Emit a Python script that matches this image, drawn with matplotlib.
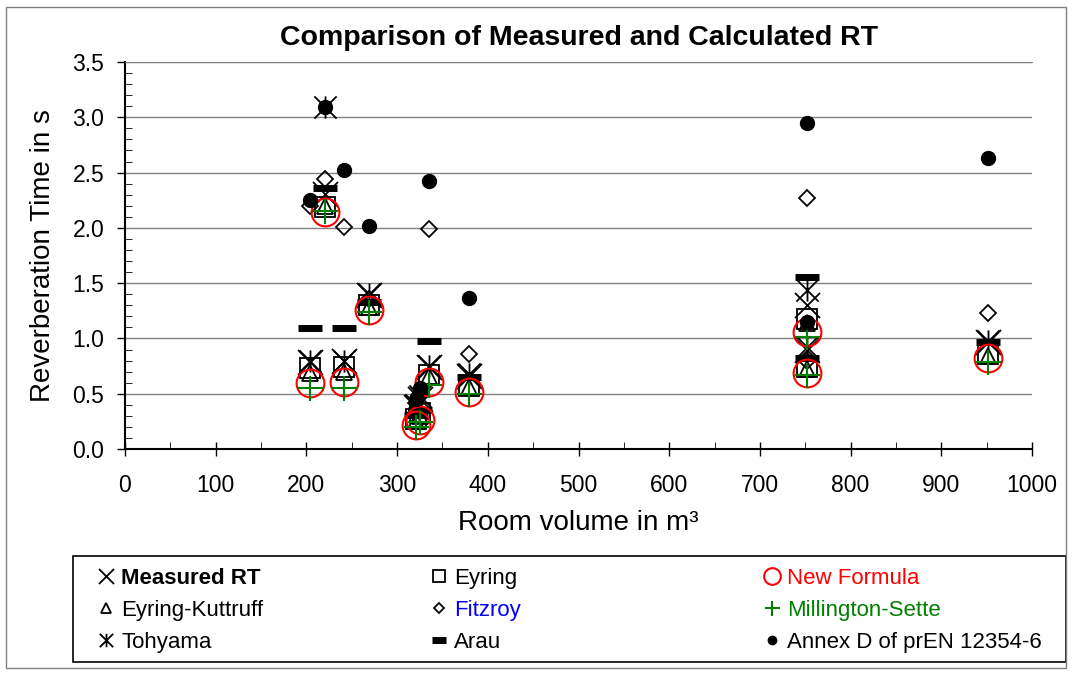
import matplotlib
matplotlib.use("Agg")
from matplotlib import pyplot as plt
from matplotlib.path import Path
from matplotlib.patches import Rectangle
from matplotlib.ticker import MultipleLocator

plt.rcParams['font.family'] = ['Liberation Sans', 'DejaVu Sans']

# room volumes in m3
volume = [204, 220, 241, 269, 321, 325, 335, 379, 752, 752, 952]

measured = [0.79, 2.31, 0.80, 1.39, 0.38, 0.45, 0.74, 0.66, 1.30, 0.90, 0.97]
eyring = [0.73, 2.19, 0.74, 1.30, 0.27, 0.33, 0.67, 0.57, 1.18, 0.74, 0.86]
eyring_kuttruff = [0.69, 2.20, 0.70, 1.28, 0.25, 0.30, 0.66, 0.56, 1.14, 0.72, 0.84]
new_formula = [0.60, 2.14, 0.61, 1.26, 0.22, 0.26, 0.61, 0.52, 1.06, 0.69, 0.82]
millington = [0.55, 2.15, 0.55, 1.24, 0.20, 0.24, 0.58, 0.50, 1.01, 0.67, 0.79]
fitzroy = [2.20, 2.44, 2.01, 1.36, 0.42, 0.50, 1.99, 0.86, 2.27, 0.80, 1.23]
tohyama = [0.80, 3.09, 0.80, 1.40, 0.40, 0.48, 0.75, 0.68, 1.44, 0.92, 0.98]
arau = [1.09, 2.36, 1.09, 1.33, 0.31, 0.35, 0.98, 0.65, 1.56, 0.82, 0.97]
annex_d = [2.25, 3.09, 2.52, 2.02, 0.45, 0.55, 2.42, 1.37, 2.95, 1.15, 2.63]

# asterisk marker: an x with a vertical stroke
star = Path([(-1, -1), (1, 1), (-1, 1), (1, -1), (0, -1), (0, 1)],
            [Path.MOVETO, Path.LINETO] * 3)

fig = plt.figure(figsize=(10.72, 6.75), dpi=100)
ax = fig.add_axes([0.1166, 0.3348, 0.8461, 0.5733])

kw = dict(linestyle='none')
h_meas, = ax.plot(volume, measured, marker='x', ms=18, mew=1.3, color='black', **kw)
h_ek, = ax.plot(volume, eyring_kuttruff, marker='^', ms=11, mew=1.3, mfc='none', mec='black', **kw)
h_toh, = ax.plot(volume, tohyama, marker=star, ms=16, mew=1.3, color='black', **kw)
h_ey, = ax.plot(volume, eyring, marker='s', ms=14, mew=1.3, mfc='none', mec='black', **kw)
h_fitz, = ax.plot(volume, fitzroy, marker='D', ms=8, mew=1.3, mfc='none', mec='black', **kw)
h_arau, = ax.plot(volume, arau, marker='_', ms=17, mew=5, color='black', **kw)
h_new, = ax.plot(volume, new_formula, marker='o', ms=20, mew=1.5, mfc='none', mec='red', **kw)
h_ms, = ax.plot(volume, millington, marker='+', ms=18, mew=1.5, color='green', **kw)
h_ann, = ax.plot(volume, annex_d, marker='o', ms=10, color='black', **kw)

ax.set_xlim(0, 1000)
ax.set_ylim(0, 3.5)
ax.xaxis.set_major_locator(MultipleLocator(100))
ax.xaxis.set_minor_locator(MultipleLocator(50))
ax.yaxis.set_major_locator(MultipleLocator(0.5))
ax.yaxis.set_minor_locator(MultipleLocator(0.1))
ax.yaxis.set_major_formatter(matplotlib.ticker.FormatStrFormatter('%.1f'))
ax.tick_params(axis='x', which='major', direction='inout', length=10, labelsize=16.5, width=1, pad=13)
ax.tick_params(axis='x', which='minor', direction='in', length=5)
ax.tick_params(axis='y', which='major', direction='out', length=6, labelsize=16.5, width=1, pad=9)
ax.tick_params(axis='y', which='minor', direction='in', length=5)
ax.grid(axis='y', which='major', color='#808080', linewidth=1)
ax.set_axisbelow(True)
ax.spines['right'].set_visible(False)
ax.spines['top'].set_color('#808080')
ax.spines['left'].set_linewidth(1.5)
ax.spines['bottom'].set_linewidth(1.5)

ax.set_xlabel('Room volume in m³', fontsize=20, labelpad=9)
ax.set_ylabel('Reverberation Time in s', fontsize=20, labelpad=12)
ax.set_title('Comparison of Measured and Calculated RT', fontsize=20.5,
             fontweight='bold', pad=12)

# legend: three fixed-width columns inside one box
columns = [
    ([h_meas, h_ek, h_toh], ['Measured RT', 'Eyring-Kuttruff', 'Tohyama']),
    ([h_ey, h_fitz, h_arau], ['Eyring', 'Fitzroy', 'Arau']),
    ([h_new, h_ms, h_ann], ['New Formula', 'Millington-Sette', 'Annex D of prEN 12354-6']),
]
col_x = [97 / 1072, 430 / 1072, 763 / 1072]
legs = []
for (hs, ls), x0 in zip(columns, col_x):
    leg = fig.legend(hs, ls, loc='upper left', bbox_to_anchor=(x0, 0.159),
                     fontsize=16, frameon=False, borderaxespad=0, borderpad=0,
                     handlelength=0.85, handletextpad=0.25, labelspacing=0.5,
                     markerscale=0.6)
    legs.append(leg)
legs[0].get_texts()[0].set_fontweight('bold')
legs[1].get_texts()[1].set_color('blue')
legs[2].get_texts()[0].set_color('red')
legs[2].get_texts()[1].set_color('green')

fig.patches.append(Rectangle((73 / 1072, 1 - 662 / 675), (1066 - 73) / 1072, 106 / 675,
                             transform=fig.transFigure, fill=False,
                             edgecolor='black', linewidth=1.2))
fig.patches.append(Rectangle((0.006, 0.01), 0.988, 0.98, transform=fig.transFigure,
                             fill=False, edgecolor='#808080', linewidth=1))

fig.savefig('out.png', dpi=100)
